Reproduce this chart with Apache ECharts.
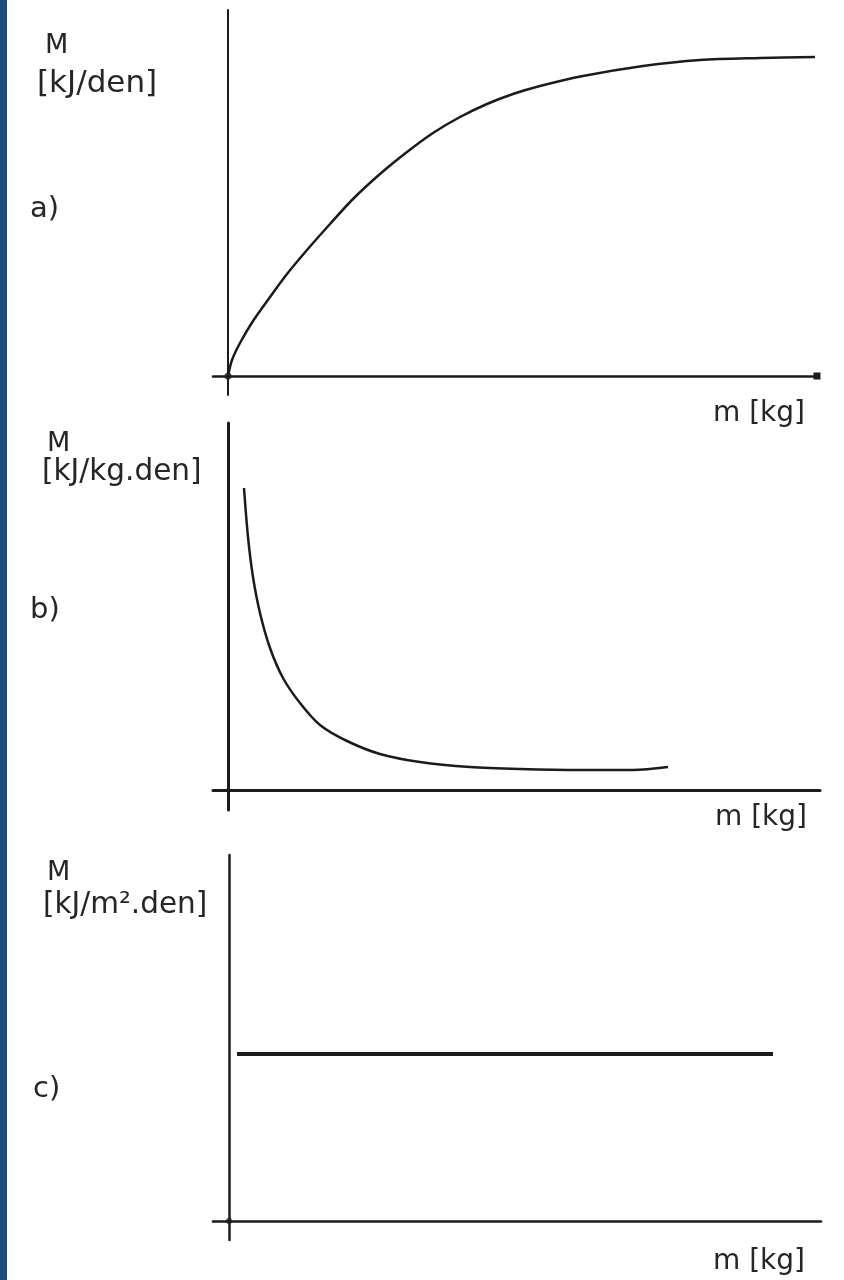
<!DOCTYPE html>
<html><head><meta charset="utf-8">
<script src="https://cdn.jsdelivr.net/npm/echarts@6/dist/echarts.min.js"></script>
<style>html,body{margin:0;padding:0;background:#fff}#c{width:844px;height:1280px}</style>
</head><body><div id="c"></div>
<script>
// Text
const panelLetters = ['a)', 'b)', 'c)'];
const yQuantity = 'M';
const yUnits = ['[kJ/den]', '[kJ/kg.den]', '[kJ/m\u00B2.den]'];
const xName = 'm [kg]';

// Data (arbitrary units)
const curveA = [[0,0],[0.4,1.6],[1.2,3.3],[2.5,5.5],[4.2,7.9],[5.9,10.2],[7.9,12.6],[10.2,15.2],[12.5,17.7],[15.2,20.2],[17.9,22.4],[20.5,24.3],[23.2,25.9],[25.9,27.2],[28.5,28.2],[31.2,29.0],[35.5,30.0],[41.5,31.0],[47.2,31.6],[53.2,31.8],[58.7,31.9]];
const curveB = [[1.6,30.2],[2.0,25.3],[2.5,21.3],[3.2,17.7],[4.2,14.2],[5.5,11.2],[7.2,8.7],[9.2,6.5],[11.9,4.9],[15.2,3.6],[19.2,2.8],[24.2,2.3],[29.2,2.1],[35.2,2.0],[40.5,2.0],[44.0,2.3]];
const lineC = [[0.8,16.7],[54.4,16.7]];
const origin = [[0,0]];

const ink = '#1b1b1b';
const font = '"DejaVu Sans", sans-serif';

function xAx(i, min, max, w, sym) {
  return {type:'value', gridIndex:i, min:min, max:max, axisTick:{show:false}, axisLabel:{show:false}, splitLine:{show:false},
    axisLine:{show:true, onZero:true, symbol: sym || 'none', symbolSize:[7,7], lineStyle:{color:ink, width:w}}};
}
function yAx(i, min, max, w) {
  return {type:'value', gridIndex:i, min:min, max:max, axisTick:{show:false}, axisLabel:{show:false}, splitLine:{show:false},
    axisLine:{show:true, onZero:true, lineStyle:{color:ink, width:w}}};
}
function txt(t, x, y, size, extra) {
  return Object.assign({type:'text', x:x, y:y, style:{text:t, font: size + 'px ' + font, fill:'#262626', verticalAlign:'middle', align:'left'}}, extra||{});
}

const chart = echarts.init(document.getElementById('c'), null, {renderer:'canvas'});
chart.setOption({
  animation:false,
  backgroundColor:'#fff',
  grid:[
    {left:213, right:27, top:10, bottom:885},
    {left:213, right:24, top:423, bottom:470},
    {left:213, right:23, top:855, bottom:40}
  ],
  xAxis:[ xAx(0,-1.5,58.9,2.5,['none','rect']), xAx(1,-1.5,59.2,3), xAx(2,-1.6,59.2,2.5) ],
  yAxis:[ yAx(0,-1.9,36.6,2), yAx(1,-2.0,36.7,3), yAx(2,-1.9,36.6,2.5) ],
  series:[
    {type:'line', xAxisIndex:0, yAxisIndex:0, data:curveA, smooth:0.3, showSymbol:false, lineStyle:{color:ink, width:2.5}},
    {type:'line', xAxisIndex:1, yAxisIndex:1, data:curveB, smooth:0.3, showSymbol:false, lineStyle:{color:ink, width:2.5}},
    {type:'line', xAxisIndex:2, yAxisIndex:2, data:lineC, showSymbol:false, lineStyle:{color:ink, width:4}},
    {type:'scatter', xAxisIndex:0, yAxisIndex:0, data:origin, symbolSize:7, itemStyle:{color:ink}},
    {type:'scatter', xAxisIndex:2, yAxisIndex:2, data:origin, symbolSize:6, itemStyle:{color:ink}}
  ],
  graphic:[
    {type:'rect', shape:{x:0, y:0, width:7, height:1280}, style:{fill:'#1f4a7e'}},
    txt(yQuantity, 45, 46, 27), txt(yUnits[0], 37, 84, 31), txt(panelLetters[0], 30, 209, 29),
    txt(yQuantity, 47, 444, 27), txt(yUnits[1], 42, 472, 29.5), txt(panelLetters[1], 30, 610, 29),
    txt(yQuantity, 47, 873, 27), txt(yUnits[2], 43, 905, 29.5), txt(panelLetters[2], 33, 1089, 29),
    txt(xName, 713, 414, 28), txt(xName, 715, 818, 28), txt(xName, 713, 1262, 28)
  ]
});
</script></body></html>
